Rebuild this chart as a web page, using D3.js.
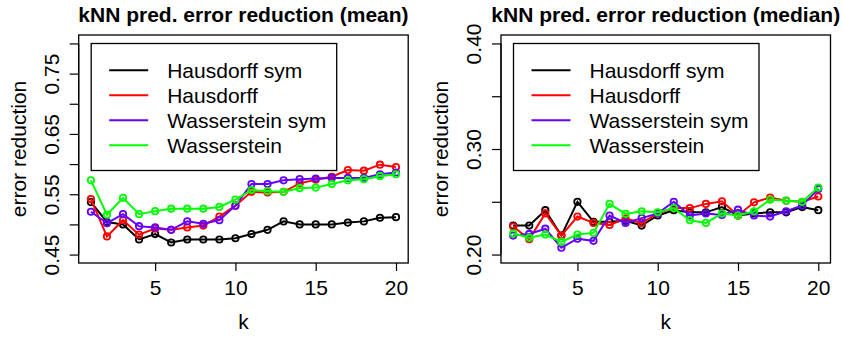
<!DOCTYPE html>
<html>
<head>
<meta charset="utf-8">
<script src="https://cdn.jsdelivr.net/npm/d3@7/dist/d3.min.js"></script>
<style>
  body { margin: 0; background: #fff; }
  text { font-family: "Liberation Sans", Arial, Helvetica, sans-serif; fill: #000; }
</style>
</head>
<body>
<div id="chart"></div>
<script>
// k values on the x axis
var kValues = [1, 2, 3, 4, 5, 6, 7, 8, 9, 10, 11, 12, 13, 14, 15, 16, 17, 18, 19, 20];
var xTicks = [5, 10, 15, 20];

var seriesNames = ["Hausdorff sym", "Hausdorff", "Wasserstein sym", "Wasserstein"];
var seriesColors = ["#000000", "#ff0000", "#6600ff", "#00ff00"];

// mean error reduction
var meanHausdorffSym = [0.537, 0.504, 0.500, 0.475, 0.484, 0.470, 0.475, 0.475, 0.475, 0.477,
                        0.484, 0.491, 0.505, 0.500, 0.500, 0.500, 0.503, 0.505, 0.511, 0.512];
var meanHausdorff = [0.542, 0.480, 0.507, 0.483, 0.493, 0.491, 0.495, 0.498, 0.513, 0.531,
                     0.554, 0.553, 0.554, 0.568, 0.574, 0.579, 0.590, 0.589, 0.599, 0.595];
var meanWassersteinSym = [0.521, 0.502, 0.517, 0.497, 0.495, 0.491, 0.505, 0.501, 0.507, 0.531,
                          0.567, 0.567, 0.573, 0.575, 0.576, 0.577, 0.577, 0.577, 0.583, 0.586];
var meanWasserstein = [0.573, 0.516, 0.544, 0.517, 0.522, 0.526, 0.526, 0.526, 0.529, 0.541,
                       0.557, 0.555, 0.554, 0.560, 0.561, 0.567, 0.573, 0.575, 0.580, 0.583];

// median error reduction
var medianHausdorffSym = [0.2275, 0.2275, 0.242, 0.218, 0.250, 0.231, 0.231, 0.232, 0.2275, 0.237,
                          0.242, 0.240, 0.240, 0.245, 0.237, 0.239, 0.240, 0.240, 0.245, 0.242];
var medianHausdorff = [0.2265, 0.2145, 0.239, 0.218, 0.236, 0.230, 0.228, 0.234, 0.230, 0.239,
                       0.244, 0.244, 0.248, 0.2505, 0.237, 0.2495, 0.254, 0.251, 0.250, 0.255];
var medianWassersteinSym = [0.218, 0.2195, 0.2245, 0.2065, 0.215, 0.213, 0.237, 0.230, 0.2345, 0.239,
                            0.250, 0.237, 0.239, 0.2375, 0.2425, 0.237, 0.236, 0.241, 0.2465, 0.262];
var medianWasserstein = [0.220, 0.216, 0.219, 0.212, 0.219, 0.2205, 0.248, 0.2385, 0.241, 0.240,
                         0.244, 0.2325, 0.230, 0.239, 0.237, 0.241, 0.252, 0.251, 0.250, 0.2635];

// y axis ticks
var meanTicks = [0.45, 0.50, 0.55, 0.60, 0.65, 0.70, 0.75, 0.80];
var meanTickLabels = ["0.45", "", "0.55", "", "0.65", "", "0.75", ""];
var medianTicks = [0.20, 0.25, 0.30, 0.35, 0.40];
var medianTickLabels = ["0.20", "", "0.30", "", "0.40"];

var svg = d3.select("#chart")
  .append("svg")
  .attr("width", 843)
  .attr("height", 338);

function drawPanel(opts) {
  var left = opts.left, top = 35, width = 329.5, height = 228;

  var g = svg.append("g")
    .attr("transform", "translate(" + left + "," + top + ")");

  // R style scales: 4% padding on each side
  var xPad = 0.04 * (20 - 1);
  var x = d3.scaleLinear().domain([1 - xPad, 20 + xPad]).range([0, width]);
  var lo = opts.ylim[0], hi = opts.ylim[1], yPad = 0.04 * (hi - lo);
  var y = d3.scaleLinear().domain([lo - yPad, hi + yPad]).range([height, 0]);

  // x axis
  var xAxis = g.append("g")
    .attr("transform", "translate(0," + height + ")")
    .call(d3.axisBottom(x).tickValues(xTicks).tickSize(8).tickFormat(d3.format("d")));
  xAxis.select(".domain").remove();
  xAxis.selectAll("line").attr("stroke", "#000").attr("stroke-width", 1.2);
  xAxis.selectAll("text")
    .attr("y", 31.5)
    .attr("dy", 0)
    .style("font-size", "21px")
    .style("font-family", "'Liberation Sans', Arial, sans-serif");

  // y axis
  var yAxis = g.append("g")
    .call(d3.axisLeft(y).tickValues(opts.ticks).tickSize(9)
      .tickFormat(function (d, i) { return opts.tickLabels[i]; }));
  yAxis.select(".domain").remove();
  yAxis.selectAll("line").attr("stroke", "#000").attr("stroke-width", 1.2);
  yAxis.selectAll("text")
    .attr("x", 0)
    .attr("y", -20)
    .attr("dy", 0)
    .attr("transform", "rotate(-90)")
    .style("text-anchor", "middle")
    .style("font-size", "21px")
    .style("font-family", "'Liberation Sans', Arial, sans-serif");

  // axis line along the ticks
  g.append("line")
    .attr("x1", 0).attr("x2", 0)
    .attr("y1", y(opts.ticks[0])).attr("y2", y(opts.ticks[opts.ticks.length - 1]))
    .attr("stroke", "#000").attr("stroke-width", 1.2);

  // series lines + open circles
  var line = d3.line()
    .x(function (d, i) { return x(kValues[i]); })
    .y(function (d) { return y(d); });

  opts.series.forEach(function (values, s) {
    g.append("path")
      .datum(values)
      .attr("d", line)
      .attr("fill", "none")
      .attr("stroke", seriesColors[s])
      .attr("stroke-width", 2);
    g.append("g")
      .selectAll("circle")
      .data(values)
      .enter()
      .append("circle")
      .attr("cx", function (d, i) { return x(kValues[i]); })
      .attr("cy", function (d) { return y(d); })
      .attr("r", 3.2)
      .attr("fill", "none")
      .attr("stroke", seriesColors[s])
      .attr("stroke-width", 1.8);
  });

  // plot box
  g.append("rect")
    .attr("width", width)
    .attr("height", height)
    .attr("fill", "none")
    .attr("stroke", "#000")
    .attr("stroke-width", 1.3);

  // legend
  var legend = g.append("g").attr("transform", "translate(12.5,8.5)");
  legend.append("rect")
    .attr("width", 245.5)
    .attr("height", 127)
    .attr("fill", "#fff")
    .attr("stroke", "#000")
    .attr("stroke-width", 1.3);
  seriesNames.forEach(function (name, s) {
    var ly = 26.8 + s * 25;
    legend.append("line")
      .attr("x1", 18).attr("x2", 57)
      .attr("y1", ly).attr("y2", ly)
      .attr("stroke", seriesColors[s])
      .attr("stroke-width", 2);
    legend.append("text")
      .attr("x", 76)
      .attr("y", ly + 7.5)
      .style("font-size", "21px")
      .text(name);
  });

  // title
  svg.append("text")
    .attr("x", left + width / 2)
    .attr("y", 21.5)
    .attr("text-anchor", "middle")
    .style("font-size", "21px")
    .style("font-weight", "bold")
    .text(opts.title);

  // axis titles
  svg.append("text")
    .attr("x", left + width / 2)
    .attr("y", 328.5)
    .attr("text-anchor", "middle")
    .style("font-size", "21px")
    .text("k");

  svg.append("text")
    .attr("transform", "translate(" + (left - 53) + "," + (top + height / 2) + ") rotate(-90)")
    .attr("text-anchor", "middle")
    .style("font-size", "21px")
    .text("error reduction");
}

drawPanel({
  left: 78.7,
  title: "kNN pred. error reduction (mean)",
  ylim: [0.45, 0.80],
  ticks: meanTicks,
  tickLabels: meanTickLabels,
  series: [meanHausdorffSym, meanHausdorff, meanWassersteinSym, meanWasserstein]
});

drawPanel({
  left: 501,
  title: "kNN pred. error reduction (median)",
  ylim: [0.20, 0.40],
  ticks: medianTicks,
  tickLabels: medianTickLabels,
  series: [medianHausdorffSym, medianHausdorff, medianWassersteinSym, medianWasserstein]
});
</script>
</body>
</html>
